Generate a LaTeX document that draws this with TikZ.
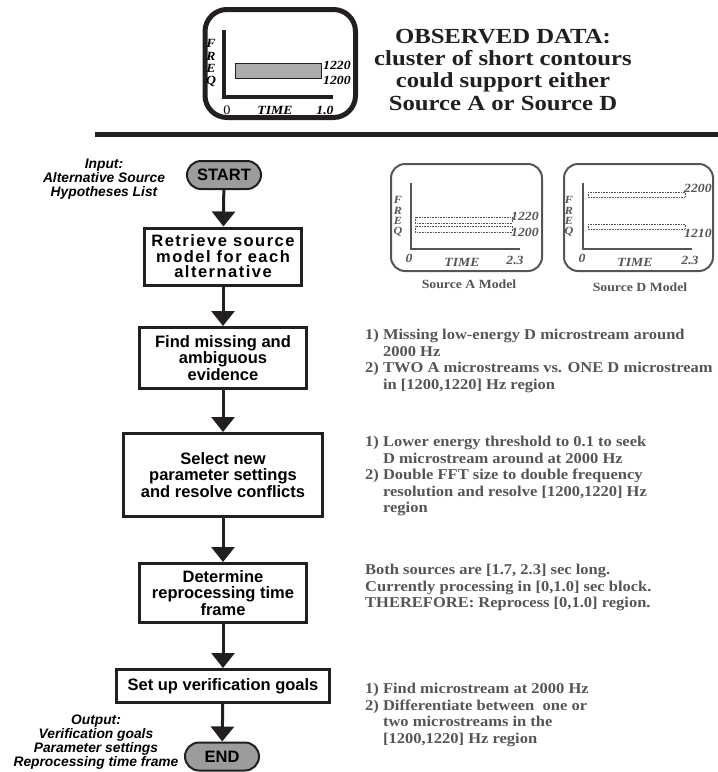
\documentclass[tikz,border=0pt]{standalone}
\usepackage{fontspec}
\setmainfont{Liberation Serif}
\newfontfamily\titlefont[FakeStretch=1.15]{Liberation Serif}
\newfontfamily\notefont[FakeStretch=1.1]{Liberation Serif}
\newfontfamily\flowfont{Liberation Sans}
\newfontfamily\spacedfont[LetterSpace=9]{Liberation Sans}
\usetikzlibrary{arrows.meta,shapes.misc}

\definecolor{ink}{HTML}{231F20}
\definecolor{pillgray}{HTML}{9C9C9C}
\definecolor{bargray}{HTML}{ABABAB}
\definecolor{notegray}{HTML}{555555}

\tikzset{
  stepbox/.style={draw=ink, line width=3pt, inner sep=0pt, align=center,
    font=\flowfont\bfseries\fontsize{16.5}{16.5}\selectfont},
  pill/.style={rounded rectangle, draw=ink, line width=2pt, fill=pillgray,
    minimum width=74pt, minimum height=28pt, inner sep=0pt,
    font=\flowfont\bfseries\fontsize{16.5}{16.5}\selectfont},
  flowarrow/.style={draw=ink, line width=3pt, -{Triangle[width=23pt,length=15pt]}},
  sidelabel/.style={align=center, inner sep=0pt,
    font=\flowfont\bfseries\itshape\fontsize{13.8}{14}\selectfont},
  axislbl/.style={inner sep=0pt, font=\notefont\bfseries\itshape\fontsize{12.5}{12.5}\selectfont},
  freqlbl/.style={inner sep=0pt, font=\notefont\bfseries\itshape\fontsize{11}{11}\selectfont},
  note/.style={anchor=north west, align=left, inner sep=0pt, text=notegray,
    font=\notefont\bfseries\fontsize{15}{16.5}\selectfont},
  modelframe/.style={draw=notegray, line width=2pt, rounded corners=14pt},
  modelaxis/.style={draw=notegray, line width=2pt},
  contour/.style={draw=notegray, line width=0.6pt, densely dotted},
}

\begin{document}
\begin{tikzpicture}[x=1pt,y=-1pt]
\useasboundingbox (0,0) rectangle (718,772);

% ---------- observed data panel ----------
\draw[ink, line width=5pt, rounded corners=22pt] (205,9.5) rectangle (355.5,117.5);
\draw[ink, line width=4pt] (224,30) |- (333,97);
\draw[ink, line width=0.8pt, fill=bargray] (235,63) rectangle (321,78);
\node[axislbl, anchor=west] (ob1220) at (323,65) {1220};
\node[axislbl, anchor=west] (ob1200) at (323,80) {1200};
\node[axislbl] (obF) at (211,43) {F};
\node[axislbl] (obR) at (211,56) {R};
\node[axislbl] (obE) at (211,68.5) {E};
\node[axislbl] (obQ) at (211,81) {Q};
\node[inner sep=0pt, font=\notefont\fontsize{13}{13}\selectfont] (ob0) at (227,110) {0};
\node[axislbl] (obtime) at (275,110) {TIME};
\node[axislbl] (obend) at (325,110) {1.0};

\node[anchor=base, align=center, inner sep=0pt, text=ink,
  font=\titlefont\bfseries\fontsize{21.5}{22.3}\selectfont] (title) at (503,110)
  {OBSERVED DATA:\\cluster of short contours\\could support either\\Source A or Source D};

\draw[ink, line width=5pt] (95,134) -- (718,134);

% ---------- flowchart ----------
\node[pill] (start) at (224,175) {START};
\node[stepbox, minimum width=157pt, minimum height=57pt,
  font=\spacedfont\bfseries\fontsize{16.5}{15.5}\selectfont] (retrieve) at (223,256.5)
  {Retrieve source\\model for each\\alternative};
\node[stepbox, minimum width=167pt, minimum height=61pt] (find) at (223,358)
  {Find missing and\\ambiguous\\evidence};
\node[stepbox, minimum width=199pt, minimum height=83pt] (select) at (223,475)
  {Select new\\parameter settings\\and resolve conflicts};
\node[stepbox, minimum width=167pt, minimum height=59pt] (determine) at (223,593)
  {Determine\\reprocessing time\\frame};
\node[stepbox, minimum width=213pt, minimum height=33pt] (verify) at (223,686)
  {Set up verification goals};
\node[pill] (end) at (222,756.5) {END};

\draw[flowarrow] (start) -- (retrieve);
\draw[flowarrow] (retrieve) -- (find);
\draw[flowarrow] (find) -- (select);
\draw[flowarrow] (select) -- (determine);
\draw[flowarrow] (determine) -- (verify);
\draw[flowarrow] (verify) -- (end);

\node[sidelabel] (input) at (104,179) {Input:\\Alternative Source\\Hypotheses List};
\node[sidelabel] (output) at (96,742.5) {Output:\\Verification goals\\Parameter settings\\Reprocessing time frame};

% ---------- source A model ----------
\draw[modelframe] (391,164) rectangle (542,271);
\draw[modelaxis] (411,183) |- (520,249);
\draw[contour] (415,217) rectangle (512,223);
\draw[contour] (415,226) rectangle (512,232);
\begin{scope}[every node/.append style={text=notegray}]
\node[axislbl, anchor=west] (a1220) at (511,216) {1220};
\node[axislbl, anchor=west] (a1200) at (511,232) {1200};
\node[freqlbl] (aF) at (398,200) {F};
\node[freqlbl] (aR) at (398,210.5) {R};
\node[freqlbl] (aE) at (398,221) {E};
\node[freqlbl] (aQ) at (398,231.5) {Q};
\node[axislbl] (a0) at (409,258) {0};
\node[axislbl] (atime) at (462,262) {TIME};
\node[axislbl] (aend) at (515,260) {2.3};
\node[inner sep=0pt, font=\notefont\bfseries\fontsize{12.5}{12.5}\selectfont] (acap) at (469,284) {Source A Model};

% ---------- source D model ----------
\draw[modelframe] (564,164) rectangle (713,271);
\draw[modelaxis] (583,183) |- (692,249);
\draw[contour] (588,192) rectangle (685,197);
\draw[contour] (588,224) rectangle (685,229);
\node[axislbl, anchor=west] (d2200) at (684,188) {2200};
\node[axislbl, anchor=west] (d1210) at (684,233) {1210};
\node[freqlbl] (dF) at (569,200) {F};
\node[freqlbl] (dR) at (569,210.5) {R};
\node[freqlbl] (dE) at (569,221) {E};
\node[freqlbl] (dQ) at (569,231.5) {Q};
\node[axislbl] (d0) at (582,258) {0};
\node[axislbl] (dtime) at (635,262) {TIME};
\node[axislbl] (dend) at (690,260) {2.3};
\node[inner sep=0pt, font=\notefont\bfseries\fontsize{12.5}{12.5}\selectfont] (dcap) at (640,287) {Source D Model};
\end{scope}

% ---------- notes beside the steps ----------
\node[note] (notefind) at (365,329)
  {1) Missing low-energy D microstream around\\
   \hphantom{1) }2000 Hz\\
   2) TWO A microstreams vs. ONE D microstream\\
   \hphantom{2) }in [1200,1220] Hz region};
\node[note] (noteselect) at (365,436)
  {1) Lower energy threshold to 0.1 to seek\\
   \hphantom{1) }D microstream around at 2000 Hz\\
   2) Double FFT size to double frequency\\
   \hphantom{2) }resolution and resolve [1200,1220] Hz\\
   \hphantom{2) }region};
\node[note] (notedetermine) at (365,564)
  {Both sources are [1.7, 2.3] sec long.\\
   Currently processing in [0,1.0] sec block.\\
   THEREFORE: Reprocess [0,1.0] region.};
\node[note] (noteverify) at (365,683)
  {1) Find microstream at 2000 Hz\\
   2) Differentiate between \ one or\\
   \hphantom{2) }two microstreams in the\\
   \hphantom{2) }[1200,1220] Hz region};
\end{tikzpicture}
\end{document}
